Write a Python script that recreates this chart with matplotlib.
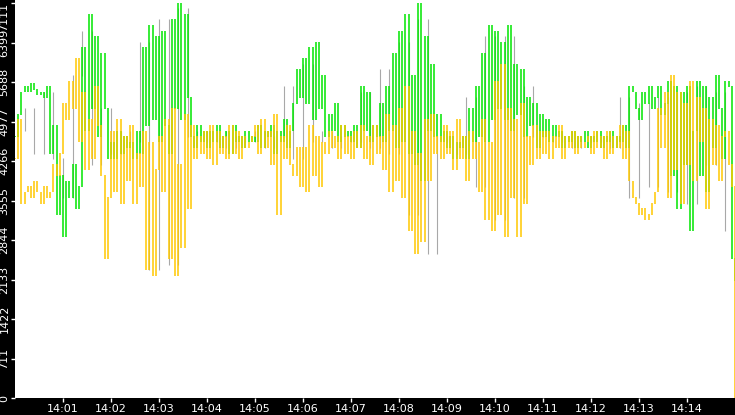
import matplotlib
matplotlib.use("Agg")
import matplotlib.pyplot as plt
import numpy as np

green = [
4700,5100,5500,5600,5500,5650,5550,5450,5500,5400,5600,4400,4900,3300,4000,
2900,3900,3600,4200,3400,3800,6300,4800,6900,5200,6500,4700,6200,5200,4300,
4600,4300,4800,4400,4700,4500,4600,4300,4800,4400,6300,4900,6700,5000,6500,
4600,6600,4900,4400,6800,5200,7100,5000,6900,5400,4700,4500,4900,4600,4800,
4500,4800,4600,4900,4500,4700,4800,4400,4900,4600,4700,4500,4800,4600,4700,
4600,4900,4500,4800,4700,4900,4400,4800,4600,5000,4500,4800,5300,5900,5400,
6100,5300,6300,5000,6400,5200,5800,4700,5100,4800,5300,4600,4900,4700,4800,
4600,4900,4500,5600,4800,5500,4600,4900,4700,5300,4600,5600,4800,6200,4500,
6600,4600,6900,4400,5800,4200,7100,3900,6500,4800,6000,4700,5100,4600,4800,
4500,4700,4300,4600,4500,4700,4300,5200,4600,5600,4700,6200,4600,6700,5000,
6600,5200,6400,5000,6700,4800,6000,5100,5900,4700,5400,4900,5300,4500,5100,
4700,5000,4600,4900,4700,4800,4500,4700,4600,4800,4500,4700,4600,4800,4500,
4700,4600,4800,4500,4700,4600,4800,4500,4700,4600,4900,4500,5600,5500,5200,
5000,5500,5300,5600,5200,5400,5600,5100,5300,5700,4000,5600,3400,5500,4200,
5600,3000,4800,5700,4000,5600,3700,5400,4500,5800,5200,4300,5700,5600,2500,
2100]

yellow = [
4300,5000,3500,3700,3800,3600,3900,3700,3500,3800,3600,3700,4200,4000,4400,
5300,5000,5700,5200,6100,4600,5500,4100,5000,4300,5600,4900,4000,2500,3600,
4800,3700,5000,3500,4700,3900,4900,3500,4400,3800,4800,2300,4600,2200,4100,
4700,3700,5000,2500,5200,2200,4200,2700,5100,3400,4900,4300,4700,4400,4800,
4300,4900,4200,4800,4400,4700,4300,4900,4400,4800,4300,4700,4500,4600,4700,
4900,4400,5000,4500,4800,4200,5100,3300,4700,4300,4900,4200,4000,4500,3800,
4500,3700,4900,4000,4700,3800,4600,4400,4800,4500,4700,4300,4900,4400,4700,
4300,4800,4500,4900,4300,4700,4200,4900,4400,4700,4100,5100,3700,4900,3900,
5200,3600,5600,3000,4800,2600,4400,2800,5000,3900,5100,4400,4700,4300,4900,
4400,4800,4100,5000,4300,4700,3900,4800,4300,4600,3700,5000,3200,4600,3000,
5700,3300,6000,2900,5200,3600,5000,2900,5300,3500,4700,4200,4900,4300,4800,
4400,4800,4300,4700,4500,4900,4300,4700,4500,4800,4400,4700,4500,4600,4700,
4400,4800,4500,4700,4300,4800,4400,4700,4500,4900,4300,4800,3900,3600,3500,
3300,3400,3200,3300,3500,3700,5200,4500,5500,3600,5800,4100,5500,3500,5300,
4200,5700,3900,5400,4600,5200,3400,5000,4200,4900,3900,4700,4800,4200,3800,
0]

gray = [
4800,5200,4400,5500,4300,
3600,5800,6600,4200,5200,
4400,4800,4600,6400,2300,
6800,2400,7000,4700,4800,
4600,4800,4500,4700,4600,
4800,4500,4700,5600,4300,
6000,4600,4800,4500,4700,
4600,5500,4500,5900,4400,
6400,3300,6800,2600,4700,
4600,4400,5400,3800,6500,
3200,6500,3600,5600,4700,
4700,4600,4800,4500,4700,
4600,4700,4500,5400,3600,
5300,3800,5400,3700,5500,
3500,5600,4200,5500,3000,
2200]

yticks = [0, 711, 1422, 2133, 2844, 3555, 4266, 4977, 5688, 6399, 7111]
xlabels = ["14:01","14:02","14:03","14:04","14:05","14:06","14:07",
           "14:08","14:09","14:10","14:11","14:12","14:13","14:14"]

fig = plt.figure(figsize=(7.35, 4.15), dpi=100, facecolor="black")
ax = fig.add_axes([15/735, 17/415, 720/735, 398/415])
ax.set_facecolor("white")


def bars(vals, step, color, lw):
    v = np.asarray(vals, dtype=float)
    t = np.arange(len(v)) * step
    prev = np.concatenate([[v[0]], v[:-1]])
    lo = np.minimum(prev, v)
    hi = np.maximum(prev, v) + 15
    ax.vlines(t, lo, hi, colors=color, linewidth=lw)


bars(gray, 12.0, "#a8a8a8", 0.8)
bars(green, 4.0, "#00e600", 1.1)
bars(yellow, 4.0, "#ffc800", 1.1)

ax.set_xlim(0, 900)
ax.set_ylim(0, 7165)
ax.set_yticks(yticks)
ax.set_yticklabels([str(v) for v in yticks], rotation=90, va="center")
ax.get_yticklabels()[-1].set_va("top")
ax.set_xticks([60 * (i + 1) for i in range(len(xlabels))])
ax.set_xticklabels(xlabels)
ax.tick_params(colors="white", labelsize=8, length=3, width=1, pad=1)
for s in ax.spines.values():
    s.set_visible(False)

fig.savefig("out.png", dpi=100, facecolor="black")
